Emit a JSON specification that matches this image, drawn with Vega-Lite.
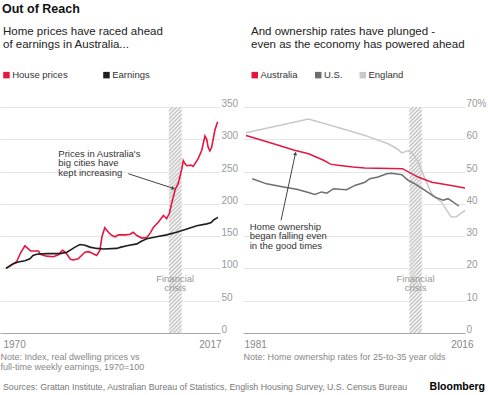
{
"$schema": "https://vega.github.io/schema/vega-lite/v6.json",
"padding": {"left": 0, "top": 2, "right": 0, "bottom": 0},
"background": "white",
"title": {"text": "Out of Reach", "anchor": "start", "frame": "group", "fontSize": 12.5, "fontWeight": "bold", "color": "#111", "offset": 11, "dx": 2},
"datasets": {
"left": [
{"year":1970,"value":100,"series":"House prices"},{"year":1971,"value":104,"series":"House prices"},{"year":1972.4,"value":111,"series":"House prices"},{"year":1973.3,"value":125,"series":"House prices"},{"year":1974.2,"value":135,"series":"House prices"},{"year":1975,"value":130,"series":"House prices"},{"year":1975.5,"value":127,"series":"House prices"},{"year":1977.2,"value":127,"series":"House prices"},{"year":1977.6,"value":122,"series":"House prices"},{"year":1979,"value":119,"series":"House prices"},{"year":1980.5,"value":118,"series":"House prices"},{"year":1981.6,"value":121,"series":"House prices"},{"year":1982.5,"value":128,"series":"House prices"},{"year":1982.8,"value":127,"series":"House prices"},{"year":1983.5,"value":122,"series":"House prices"},{"year":1984.3,"value":114,"series":"House prices"},{"year":1984.9,"value":113,"series":"House prices"},{"year":1986,"value":115,"series":"House prices"},{"year":1987.5,"value":125,"series":"House prices"},{"year":1988.3,"value":126,"series":"House prices"},{"year":1989,"value":124,"series":"House prices"},{"year":1990.1,"value":120,"series":"House prices"},{"year":1990.8,"value":128,"series":"House prices"},{"year":1991.3,"value":150,"series":"House prices"},{"year":1991.9,"value":163,"series":"House prices"},{"year":1992.7,"value":156,"series":"House prices"},{"year":1993.5,"value":151,"series":"House prices"},{"year":1994.2,"value":149,"series":"House prices"},{"year":1994.9,"value":152,"series":"House prices"},{"year":1996.5,"value":152,"series":"House prices"},{"year":1997.5,"value":153,"series":"House prices"},{"year":1998.2,"value":156,"series":"House prices"},{"year":1999,"value":151,"series":"House prices"},{"year":2000.1,"value":147,"series":"House prices"},{"year":2001.2,"value":148,"series":"House prices"},{"year":2002,"value":155,"series":"House prices"},{"year":2002.7,"value":164,"series":"House prices"},{"year":2003.8,"value":172,"series":"House prices"},{"year":2004.9,"value":182,"series":"House prices"},{"year":2005.6,"value":177,"series":"House prices"},{"year":2006.2,"value":185,"series":"House prices"},{"year":2006.7,"value":200,"series":"House prices"},{"year":2007.5,"value":222,"series":"House prices"},{"year":2008.2,"value":232,"series":"House prices"},{"year":2009,"value":255,"series":"House prices"},{"year":2009.3,"value":267,"series":"House prices"},{"year":2009.7,"value":262,"series":"House prices"},{"year":2010.1,"value":259,"series":"House prices"},{"year":2011,"value":260,"series":"House prices"},{"year":2011.5,"value":258,"series":"House prices"},{"year":2012.6,"value":270,"series":"House prices"},{"year":2013.4,"value":283,"series":"House prices"},{"year":2014.1,"value":305,"series":"House prices"},{"year":2014.5,"value":300,"series":"House prices"},{"year":2014.8,"value":288,"series":"House prices"},{"year":2015.2,"value":282,"series":"House prices"},{"year":2015.6,"value":288,"series":"House prices"},{"year":2016.3,"value":314,"series":"House prices"},{"year":2016.8,"value":325,"series":"House prices"},{"year":2017,"value":327,"series":"House prices"},
{"year":1970,"value":100,"series":"Earnings"},{"year":1970.8,"value":104,"series":"Earnings"},{"year":1971.5,"value":107,"series":"Earnings"},{"year":1972.7,"value":110,"series":"Earnings"},{"year":1974.2,"value":112,"series":"Earnings"},{"year":1975.3,"value":115,"series":"Earnings"},{"year":1976,"value":120,"series":"Earnings"},{"year":1976.8,"value":122,"series":"Earnings"},{"year":1979,"value":123,"series":"Earnings"},{"year":1982,"value":123,"series":"Earnings"},{"year":1983.5,"value":125,"series":"Earnings"},{"year":1984.6,"value":130,"series":"Earnings"},{"year":1985.3,"value":133,"series":"Earnings"},{"year":1986.4,"value":137,"series":"Earnings"},{"year":1987.5,"value":136,"series":"Earnings"},{"year":1988.6,"value":133,"series":"Earnings"},{"year":1990.1,"value":131,"series":"Earnings"},{"year":1991.6,"value":130,"series":"Earnings"},{"year":1994.5,"value":131,"series":"Earnings"},{"year":1995.5,"value":133,"series":"Earnings"},{"year":1996.8,"value":135,"series":"Earnings"},{"year":1999,"value":138,"series":"Earnings"},{"year":2000,"value":142,"series":"Earnings"},{"year":2001.2,"value":146,"series":"Earnings"},{"year":2003.4,"value":149,"series":"Earnings"},{"year":2005.6,"value":152,"series":"Earnings"},{"year":2007.8,"value":156,"series":"Earnings"},{"year":2010.1,"value":161,"series":"Earnings"},{"year":2012.3,"value":166,"series":"Earnings"},{"year":2014.5,"value":169,"series":"Earnings"},{"year":2015.5,"value":171,"series":"Earnings"},{"year":2016,"value":175,"series":"Earnings"},{"year":2017,"value":179,"series":"Earnings"}
],
"right": [
{"year":1981,"value":62,"series":"England"},{"year":1991,"value":66.3,"series":"England"},{"year":1996,"value":63.5,"series":"England"},{"year":2000,"value":61.2,"series":"England"},{"year":2003.7,"value":58.6,"series":"England"},{"year":2005.2,"value":57,"series":"England"},{"year":2005.9,"value":55.8,"series":"England"},{"year":2006.9,"value":56.5,"series":"England"},{"year":2007.7,"value":55.5,"series":"England"},{"year":2008.5,"value":53,"series":"England"},{"year":2009.6,"value":47.8,"series":"England"},{"year":2010.7,"value":43,"series":"England"},{"year":2012.2,"value":40.6,"series":"England"},{"year":2013.8,"value":35.9,"series":"England"},{"year":2014.6,"value":36,"series":"England"},{"year":2016,"value":38,"series":"England"},
{"year":1982,"value":47.8,"series":"U.S."},{"year":1984.3,"value":46.2,"series":"U.S."},{"year":1987,"value":45.2,"series":"U.S."},{"year":1989.1,"value":44.5,"series":"U.S."},{"year":1990.7,"value":43.7,"series":"U.S."},{"year":1992,"value":42.9,"series":"U.S."},{"year":1993.1,"value":43.7,"series":"U.S."},{"year":1993.9,"value":43.3,"series":"U.S."},{"year":1995,"value":44.7,"series":"U.S."},{"year":1996,"value":44.5,"series":"U.S."},{"year":1997.1,"value":44.4,"series":"U.S."},{"year":1998.4,"value":45.7,"series":"U.S."},{"year":2000,"value":46.7,"series":"U.S."},{"year":2000.8,"value":47.8,"series":"U.S."},{"year":2002.1,"value":48.3,"series":"U.S."},{"year":2003.5,"value":49.3,"series":"U.S."},{"year":2004.3,"value":49.5,"series":"U.S."},{"year":2005.9,"value":49,"series":"U.S."},{"year":2006.9,"value":47.3,"series":"U.S."},{"year":2008,"value":46.2,"series":"U.S."},{"year":2009.6,"value":44.2,"series":"U.S."},{"year":2011.2,"value":42.1,"series":"U.S."},{"year":2012.5,"value":41.1,"series":"U.S."},{"year":2013.3,"value":41.6,"series":"U.S."},{"year":2014.9,"value":39.5,"series":"U.S."},{"year":2015,"value":39.3,"series":"U.S."},
{"year":1981,"value":61.2,"series":"Australia"},{"year":1985.4,"value":58.6,"series":"Australia"},{"year":1988.6,"value":56.7,"series":"Australia"},{"year":1991,"value":55.5,"series":"Australia"},{"year":1993.4,"value":53.5,"series":"Australia"},{"year":1994.5,"value":52.3,"series":"Australia"},{"year":1996,"value":51.9,"series":"Australia"},{"year":1998.1,"value":51.4,"series":"Australia"},{"year":2000,"value":51.1,"series":"Australia"},{"year":2006,"value":50.9,"series":"Australia"},{"year":2008.5,"value":48.3,"series":"Australia"},{"year":2010.7,"value":46.7,"series":"Australia"},{"year":2013.1,"value":45.9,"series":"Australia"},{"year":2016,"value":44.9,"series":"Australia"}
]
},
"vconcat": [
{"hconcat": [
{
"width": 220, "height": 226,
"title": {"text": ["Home prices have raced ahead", "of earnings in Australia..."], "anchor": "start", "frame": "group", "fontSize": 11.5, "fontWeight": "normal", "color": "#222", "lineHeight": 12.5, "offset": 20, "dx": 3},
"layer": [
{"data": {"values": [{"start": 2006.1, "end": 2008.95}]},
 "mark": {"type": "rect"},
 "encoding": {
  "x": {"field": "start", "type": "quantitative", "scale": {"domain": [1968.67, 2017.44], "nice": false, "zero": false},
        "axis": {"values": [1970, 2017], "format": "d", "grid": false, "labelFlush": 20, "labelFlushOffset": 3, "labelPadding": 6, "labelColor": "#888",
                 "title": ["Note: Index, real dwelling prices vs", "full-time weekly earnings, 1970=100"], "titleFontSize": 9, "titleFontWeight": "normal", "titleColor": "#888", "titleAnchor": "start", "titleAlign": "left", "titlePadding": 3, "titleLineHeight": 10}},
  "x2": {"field": "end"},
  "y": {"datum": 0, "type": "quantitative", "scale": {"domain": [0, 350], "nice": false},
        "axis": {"orient": "right", "values": [0, 50, 100, 150, 200, 250, 300, 350], "tickCount": 20, "labelOverlap": false, "grid": true, "gridColor": {"condition": {"test": "datum.value === 0", "value": "#a8a8a8"}, "value": "#e6e6e6"}, "labelBaseline": "middle", "labelOffset": -3.5, "labelPadding": 1, "labelAlign": "left", "title": null}},
  "y2": {"datum": 350}
 }},
{"data": {"values": [{}]},
 "mark": {"type": "text", "text": ["Financial", "crisis"], "align": "center", "baseline": "alphabetic", "fontSize": 9.5, "lineHeight": 9, "color": "#999"},
 "encoding": {"x": {"datum": 2007.5}, "y": {"datum": 79}}},
{"data": {"name": "left"},
 "mark": {"type": "line", "strokeWidth": 1.6},
 "encoding": {
  "x": {"field": "year", "type": "quantitative"},
  "y": {"field": "value", "type": "quantitative",
        "axis": {"orient": "right", "values": [0, 50, 100, 150, 200, 250, 300, 350], "tickCount": 20, "labelOverlap": false, "grid": true, "gridColor": {"condition": {"test": "datum.value === 0", "value": "#a8a8a8"}, "value": "#e6e6e6"}, "labelBaseline": "middle", "labelOffset": -3.5, "labelPadding": 1, "labelAlign": "left", "title": null}},
  "color": {"field": "series", "type": "nominal", "scale": {"domain": ["House prices", "Earnings"], "range": ["#e4183f", "#1e1e1e"]},
            "legend": {"title": null, "orient": "none", "legendX": 1.7, "legendY": -37, "direction": "horizontal", "symbolType": "square", "symbolSize": 1, "symbolStrokeWidth": 5.5, "labelFontSize": 9.5, "labelColor": "#333", "columnPadding": 27, "labelOffset": 1, "padding": 0}}
 }},
{"data": {"values": [{}]},
 "mark": {"type": "rule", "color": "#444", "strokeWidth": 1},
 "encoding": {"x": {"datum": 1997.1}, "y": {"datum": 246.7}, "x2": {"datum": 2007.1}, "y2": {"datum": 224}}},
{"data": {"values": [{}]},
 "mark": {"type": "point", "shape": "triangle-right", "filled": true, "size": 16, "angle": 18, "color": "#444", "opacity": 1},
 "encoding": {"x": {"datum": 2007.1}, "y": {"datum": 224}}},
{"data": {"values": [{}]},
 "mark": {"type": "text", "text": ["Prices in Australia's", "big cities have", "kept increasing"], "align": "left", "baseline": "alphabetic", "fontSize": 9.5, "lineHeight": 9.3, "color": "#333"},
 "encoding": {"x": {"datum": 1981.6}, "y": {"datum": 272.4}}}
]
},
{
"width": 222, "height": 226,
"title": {"text": ["And ownership rates have plunged -", "even as the economy has powered ahead"], "anchor": "start", "frame": "group", "fontSize": 11.5, "fontWeight": "normal", "color": "#222", "lineHeight": 12.5, "offset": 20, "dx": 8},
"layer": [
{"data": {"values": [{"start": 2007.1, "end": 2009.1}]},
 "mark": {"type": "rect"},
 "encoding": {
  "x": {"field": "start", "type": "quantitative", "scale": {"domain": [1980.52, 2016], "nice": false, "zero": false},
        "axis": {"values": [1981, 2016], "format": "d", "grid": false, "labelFlush": 20, "labelFlushOffset": 5, "labelOffset": 3, "labelPadding": 6, "labelColor": "#888",
                 "title": "Note: Home ownership rates for 25-to-35 year olds", "titleFontSize": 9, "titleFontWeight": "normal", "titleColor": "#888", "titleAnchor": "start", "titleAlign": "left", "titlePadding": 3, "titleLineHeight": 10}},
  "x2": {"field": "end"},
  "y": {"datum": 0, "type": "quantitative", "scale": {"domain": [0, 70], "nice": false},
        "axis": {"orient": "right", "values": [0, 10, 20, 30, 40, 50, 60, 70], "tickCount": 20, "labelOverlap": false, "labelExpr": "datum.value == 70 ? '70%' : datum.label", "grid": true, "gridColor": {"condition": {"test": "datum.value === 0", "value": "#a8a8a8"}, "value": "#e6e6e6"}, "labelBaseline": "middle", "labelOffset": -3.5, "labelPadding": 1, "labelAlign": "left", "title": null}},
  "y2": {"datum": 70}
 }},
{"data": {"values": [{}]},
 "mark": {"type": "text", "text": ["Financial", "crisis"], "align": "center", "baseline": "alphabetic", "fontSize": 9.5, "lineHeight": 9, "color": "#999"},
 "encoding": {"x": {"datum": 2008.1}, "y": {"datum": 15.8}}},
{"data": {"name": "right"},
 "mark": {"type": "line", "strokeWidth": 1.5},
 "encoding": {
  "x": {"field": "year", "type": "quantitative"},
  "y": {"field": "value", "type": "quantitative",
        "axis": {"orient": "right", "values": [0, 10, 20, 30, 40, 50, 60, 70], "tickCount": 20, "labelOverlap": false, "labelExpr": "datum.value == 70 ? '70%' : datum.label", "grid": true, "gridColor": {"condition": {"test": "datum.value === 0", "value": "#a8a8a8"}, "value": "#e6e6e6"}, "labelBaseline": "middle", "labelOffset": -3.5, "labelPadding": 1, "labelAlign": "left", "title": null}},
  "color": {"field": "series", "type": "nominal", "scale": {"domain": ["Australia", "U.S.", "England"], "range": ["#e4183f", "#6e6e6e", "#c8c8c8"]},
            "legend": {"title": null, "orient": "none", "legendX": 7, "legendY": -37, "direction": "horizontal", "symbolType": "square", "symbolSize": 1, "symbolStrokeWidth": 5.5, "labelFontSize": 9.5, "labelColor": "#333", "columnPadding": 8.5, "labelOffset": 1, "padding": 0}}
 }},
{"data": {"values": [{}]},
 "mark": {"type": "rule", "color": "#444", "strokeWidth": 1},
 "encoding": {"x": {"datum": 1986.6}, "y": {"datum": 34.9}, "x2": {"datum": 1988.9}, "y2": {"datum": 55.6}}},
{"data": {"values": [{}]},
 "mark": {"type": "point", "shape": "triangle-up", "filled": true, "size": 16, "angle": 12, "color": "#444", "opacity": 1},
 "encoding": {"x": {"datum": 1988.9}, "y": {"datum": 55.6}}},
{"data": {"values": [{}]},
 "mark": {"type": "text", "text": ["Home ownership", "began falling even", "in the good times"], "align": "left", "baseline": "alphabetic", "fontSize": 9.5, "lineHeight": 9.5, "color": "#333"},
 "encoding": {"x": {"datum": 1981.6}, "y": {"datum": 32.0}}}
]
}
], "spacing": 5, "resolve": {"scale": {"color": "independent"}, "legend": {"color": "independent"}}},
{
"width": 485, "height": 12,
"layer": [
{"data": {"values": [{"pos": 0, "label": "Sources: Grattan Institute, Australian Bureau of Statistics, English Housing Survey, U.S. Census Bureau"}]},
 "mark": {"type": "text", "align": "left", "fontSize": 8.8, "color": "#777", "dx": 3},
 "encoding": {"x": {"field": "pos", "type": "quantitative", "scale": {"domain": [0, 1]}, "axis": null}, "text": {"field": "label"}}},
{"data": {"values": [{"pos": 1, "label": "Bloomberg"}]},
 "mark": {"type": "text", "align": "right", "fontSize": 10.5, "fontWeight": "bold", "color": "#000"},
 "encoding": {"x": {"field": "pos", "type": "quantitative", "axis": null}, "text": {"field": "label"}}}
]
}
],
"spacing": 10,
"config": {
"font": "Liberation Sans",
"view": {"stroke": null},
"axis": {"domain": false, "ticks": false, "tickSize": 0, "labelFontSize": 10, "labelColor": "#9a9a9a", "gridColor": "#e6e6e6", "titleFontWeight": "normal"},
"rect": {"fill": {"gradient": "linear", "x1": 0, "y1": 0, "x2": 0.0596, "y2": 1.053, "stops": [
{"offset":0,"color":"#bdbdbd"},{"offset":0.0083,"color":"#fff"},{"offset":0.0167,"color":"#bdbdbd"},{"offset":0.025,"color":"#fff"},{"offset":0.0333,"color":"#bdbdbd"},{"offset":0.0417,"color":"#fff"},{"offset":0.05,"color":"#bdbdbd"},{"offset":0.0583,"color":"#fff"},{"offset":0.0667,"color":"#bdbdbd"},{"offset":0.075,"color":"#fff"},{"offset":0.0833,"color":"#bdbdbd"},{"offset":0.0917,"color":"#fff"},
{"offset":0.1,"color":"#bdbdbd"},{"offset":0.1083,"color":"#fff"},{"offset":0.1167,"color":"#bdbdbd"},{"offset":0.125,"color":"#fff"},{"offset":0.1333,"color":"#bdbdbd"},{"offset":0.1417,"color":"#fff"},{"offset":0.15,"color":"#bdbdbd"},{"offset":0.1583,"color":"#fff"},{"offset":0.1667,"color":"#bdbdbd"},{"offset":0.175,"color":"#fff"},{"offset":0.1833,"color":"#bdbdbd"},{"offset":0.1917,"color":"#fff"},
{"offset":0.2,"color":"#bdbdbd"},{"offset":0.2083,"color":"#fff"},{"offset":0.2167,"color":"#bdbdbd"},{"offset":0.225,"color":"#fff"},{"offset":0.2333,"color":"#bdbdbd"},{"offset":0.2417,"color":"#fff"},{"offset":0.25,"color":"#bdbdbd"},{"offset":0.2583,"color":"#fff"},{"offset":0.2667,"color":"#bdbdbd"},{"offset":0.275,"color":"#fff"},{"offset":0.2833,"color":"#bdbdbd"},{"offset":0.2917,"color":"#fff"},
{"offset":0.3,"color":"#bdbdbd"},{"offset":0.3083,"color":"#fff"},{"offset":0.3167,"color":"#bdbdbd"},{"offset":0.325,"color":"#fff"},{"offset":0.3333,"color":"#bdbdbd"},{"offset":0.3417,"color":"#fff"},{"offset":0.35,"color":"#bdbdbd"},{"offset":0.3583,"color":"#fff"},{"offset":0.3667,"color":"#bdbdbd"},{"offset":0.375,"color":"#fff"},{"offset":0.3833,"color":"#bdbdbd"},{"offset":0.3917,"color":"#fff"},
{"offset":0.4,"color":"#bdbdbd"},{"offset":0.4083,"color":"#fff"},{"offset":0.4167,"color":"#bdbdbd"},{"offset":0.425,"color":"#fff"},{"offset":0.4333,"color":"#bdbdbd"},{"offset":0.4417,"color":"#fff"},{"offset":0.45,"color":"#bdbdbd"},{"offset":0.4583,"color":"#fff"},{"offset":0.4667,"color":"#bdbdbd"},{"offset":0.475,"color":"#fff"},{"offset":0.4833,"color":"#bdbdbd"},{"offset":0.4917,"color":"#fff"},
{"offset":0.5,"color":"#bdbdbd"},{"offset":0.5083,"color":"#fff"},{"offset":0.5167,"color":"#bdbdbd"},{"offset":0.525,"color":"#fff"},{"offset":0.5333,"color":"#bdbdbd"},{"offset":0.5417,"color":"#fff"},{"offset":0.55,"color":"#bdbdbd"},{"offset":0.5583,"color":"#fff"},{"offset":0.5667,"color":"#bdbdbd"},{"offset":0.575,"color":"#fff"},{"offset":0.5833,"color":"#bdbdbd"},{"offset":0.5917,"color":"#fff"},
{"offset":0.6,"color":"#bdbdbd"},{"offset":0.6083,"color":"#fff"},{"offset":0.6167,"color":"#bdbdbd"},{"offset":0.625,"color":"#fff"},{"offset":0.6333,"color":"#bdbdbd"},{"offset":0.6417,"color":"#fff"},{"offset":0.65,"color":"#bdbdbd"},{"offset":0.6583,"color":"#fff"},{"offset":0.6667,"color":"#bdbdbd"},{"offset":0.675,"color":"#fff"},{"offset":0.6833,"color":"#bdbdbd"},{"offset":0.6917,"color":"#fff"},
{"offset":0.7,"color":"#bdbdbd"},{"offset":0.7083,"color":"#fff"},{"offset":0.7167,"color":"#bdbdbd"},{"offset":0.725,"color":"#fff"},{"offset":0.7333,"color":"#bdbdbd"},{"offset":0.7417,"color":"#fff"},{"offset":0.75,"color":"#bdbdbd"},{"offset":0.7583,"color":"#fff"},{"offset":0.7667,"color":"#bdbdbd"},{"offset":0.775,"color":"#fff"},{"offset":0.7833,"color":"#bdbdbd"},{"offset":0.7917,"color":"#fff"},
{"offset":0.8,"color":"#bdbdbd"},{"offset":0.8083,"color":"#fff"},{"offset":0.8167,"color":"#bdbdbd"},{"offset":0.825,"color":"#fff"},{"offset":0.8333,"color":"#bdbdbd"},{"offset":0.8417,"color":"#fff"},{"offset":0.85,"color":"#bdbdbd"},{"offset":0.8583,"color":"#fff"},{"offset":0.8667,"color":"#bdbdbd"},{"offset":0.875,"color":"#fff"},{"offset":0.8833,"color":"#bdbdbd"},{"offset":0.8917,"color":"#fff"},
{"offset":0.9,"color":"#bdbdbd"},{"offset":0.9083,"color":"#fff"},{"offset":0.9167,"color":"#bdbdbd"},{"offset":0.925,"color":"#fff"},{"offset":0.9333,"color":"#bdbdbd"},{"offset":0.9417,"color":"#fff"},{"offset":0.95,"color":"#bdbdbd"},{"offset":0.9583,"color":"#fff"},{"offset":0.9667,"color":"#bdbdbd"},{"offset":0.975,"color":"#fff"},{"offset":0.9833,"color":"#bdbdbd"},{"offset":0.9917,"color":"#fff"},
{"offset":1,"color":"#bdbdbd"}
]}}
}
}
